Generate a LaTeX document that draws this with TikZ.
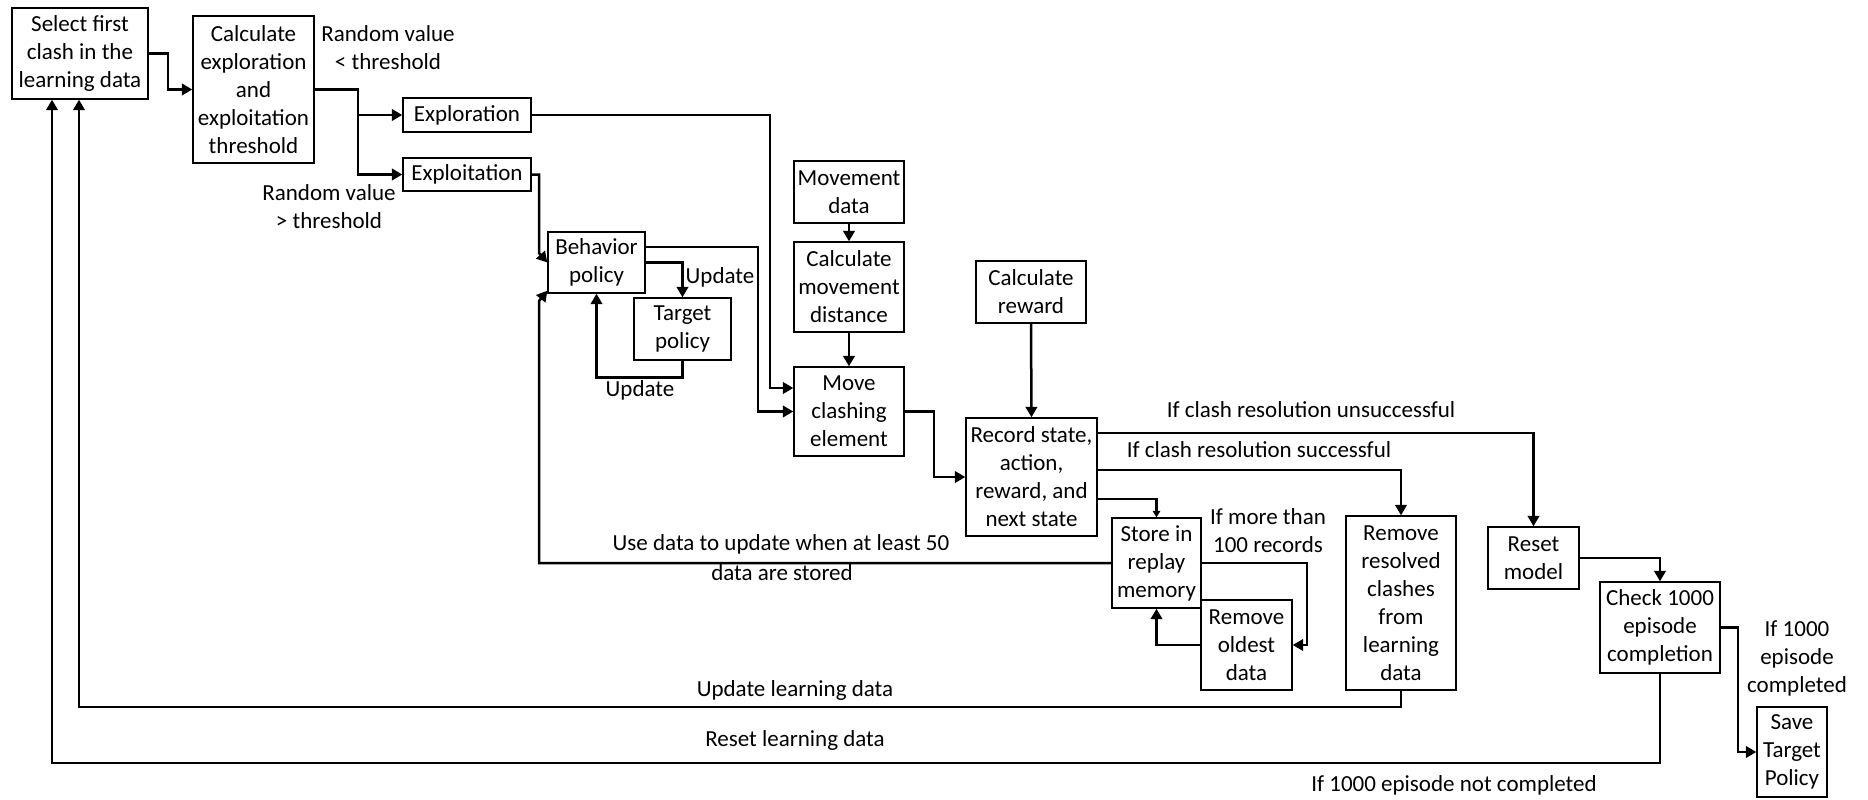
\documentclass[tikz,border=0pt]{standalone}
\usepackage{fontspec}
\setmainfont{Carlito}
\usetikzlibrary{arrows.meta,calc}
\newcommand\bx[6]{\node[box, minimum width={(#4-#2)*0.4pt}, minimum height={(#5-#3)*0.4pt}] (#1) at ({(#2+#4)/2},{(#3+#5)/2}) {#6};}
\begin{document}
\begin{tikzpicture}[x=0.4pt,y=-0.4pt, font=\fontsize{9.2pt}{11.2pt}\selectfont,
 box/.style={draw, line width=0.55pt, align=center, inner sep=0pt},
 lab/.style={align=center, inner sep=0pt},
 arr/.style={line width=1pt, -{Triangle[length=4.2pt,width=4.6pt]}},
 sarr/.style={line width=1pt, -{Triangle[length=2.6pt,width=3pt]}}]
\useasboundingbox (0,0) rectangle (1868,800);
% boxes
\bx{b1}{12}{8}{148}{99}{Select first\\clash in the\\learning data}
\bx{b2}{193}{16}{314}{163}{Calculate\\exploration\\and\\exploitation\\threshold}
\bx{explr}{403}{98}{531}{132}{Exploration}
\bx{explt}{403}{158}{531}{191}{Exploitation}
\bx{beh}{548}{232}{645}{293}{Behavior\\policy}
\bx{tgt}{634}{298}{731}{360}{Target\\policy}
\bx{mvd}{794}{161}{904}{223}{Movement\\data}
\bx{cmd}{794}{242}{904}{332}{Calculate\\movement\\distance}
\bx{move}{794}{367}{904}{456}{Move\\clashing\\element}
\bx{crw}{976}{261}{1086}{323}{Calculate\\reward}
\bx{rec}{966}{418}{1097}{536}{Record state,\\action,\\reward, and\\next state}
\bx{store}{1112}{518}{1201}{608}{Store in\\replay\\memory}
\bx{rmo}{1201}{600}{1292}{690}{Remove\\oldest\\data}
\bx{rmr}{1346}{516}{1456}{690}{Remove\\resolved\\clashes\\from\\learning\\data}
\bx{reset}{1488}{527}{1579}{589}{Reset\\model}
\bx{chk}{1600}{582}{1720}{673}{Check 1000\\episode\\completion}
\bx{save}{1757}{707}{1827}{797}{Save\\Target\\Policy}
% columns
\coordinate (xU) at (79,0);
\coordinate (xR) at (52,0);
% connectors
\draw[arr] (b1.east) -| (168,89.5) -- (b2.west);
\draw[arr] (b2.east) -| (358,115) -- (explr.west);
\draw[arr] (b2.east) -| (358,174.5) -- (explt.west);
\draw[arr] (explr.east) -| (770,388) -- ($(move.west)+(0,-23.5)$);
\draw[arr] (explt.east) -| (539,253) -- (beh.west);
\draw[arr] (store.west) -| (539,301) -- ($(beh.south west)+(0,-3)$);
\draw[arr] ([yshift=6.2pt]beh.east) -| (758,411.5) -- (move.west);
\draw[arr] (beh.east) -| (tgt.north);
\draw[arr] (tgt.south) -- ++(0,17) -| (beh.south);
\draw[arr] (mvd.south) -- (cmd.north);
\draw[arr] (cmd.south) -- (move.north);
\draw[arr] (move.east) -| (934,477) -- (rec.west);
\draw[arr] (crw.south) -- (rec.north);
\draw[arr] ([yshift=17.6pt]rec.east) -| (reset.north);
\draw[arr] ([yshift=2.8pt]rec.east) -| (rmr.north);
\draw[sarr] ([yshift=-8.8pt]rec.east) -| (store.north);
\draw[arr] (store.east) -| (1307,645) -- (rmo.east);
\draw[arr] (rmo.west) -| (store.south);
\draw[arr] (rmr.south) |- (79,707) -- (b1.south -| xU);
\draw[arr] (chk.south) |- (52,763) -- (b1.south -| xR);
\draw[arr] (reset.east) -| (chk.north);
\draw[arr] (chk.east) -| (1738,752) -- (save.west);
% labels
\node[lab] (lRv1) at (388,47.5) {Random value\\< threshold};
\node[lab] (lRv2) at (329,206.5) {Random value\\> threshold};
\node[lab] (lUp1) at (720,277) {Update};
\node[lab] (lUp2) at (640,390) {Update};
\node[lab] (lUns) at (1311,410) {If clash resolution unsuccessful};
\node[lab] (lSuc) at (1259,450) {If clash resolution successful};
\node[lab] (lMore) at (1268,531) {If more than\\100 records};
\node[lab] (lUse1) at (781,544) {Use data to update when at least 50};
\node[lab] (lUse2) at (782,573) {data are stored};
\node[lab] (lUpd) at (795,690) {Update learning data};
\node[lab] (lRst) at (795,740) {Reset learning data};
\node[lab] (lNot) at (1454,785) {If 1000 episode not completed};
\node[lab] (lDone) at (1797,658) {If 1000\\episode\\completed};
\end{tikzpicture}
\end{document}
